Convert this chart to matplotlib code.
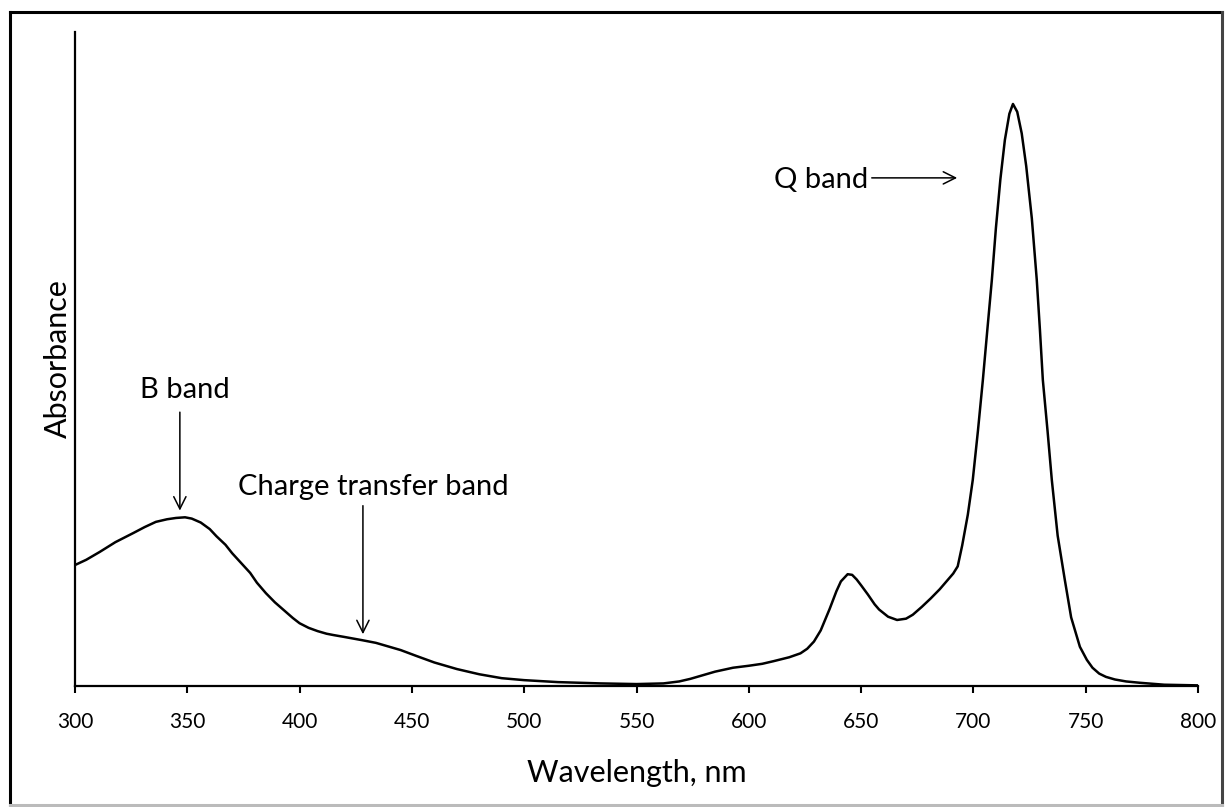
import matplotlib.pyplot as plt
from matplotlib.lines import Line2D

# UV-vis spectrum read as (wavelength nm, absorbance a.u.)
wavelength = [300, 305, 311, 318, 326, 331, 336, 341, 345, 349, 352, 356,
              360, 363, 367, 370, 374, 378, 381, 385, 389, 393, 397, 400,
              404, 408, 412, 415, 420, 428, 434, 440, 445, 452, 460, 470,
              480, 490, 500, 515, 534, 550, 562, 569, 574, 578, 585, 593,
              600, 606, 611, 618, 623, 626, 629, 632, 636, 639, 641, 644,
              646, 648, 650, 653, 656, 658, 662, 666, 670, 673, 677, 681,
              685, 688, 691, 693, 695, 697.5, 699.7, 702, 704.2, 706.2,
              708.2, 710, 712, 714, 716, 717.6, 719.5, 721.5, 723.5, 726,
              728.2, 729.6, 730.9, 733, 734.9, 737.5, 740.7, 743.5, 747.4,
              750.5, 753, 756, 759, 763, 768, 774, 785, 800]
absorbance = [0.185, 0.193, 0.205, 0.220, 0.234, 0.243, 0.251, 0.255, 0.257,
              0.258, 0.256, 0.250, 0.240, 0.229, 0.216, 0.203, 0.188, 0.173,
              0.158, 0.142, 0.128, 0.116, 0.104, 0.096, 0.089, 0.084, 0.080,
              0.078, 0.075, 0.070, 0.066, 0.060, 0.055, 0.046, 0.036, 0.026,
              0.018, 0.012, 0.009, 0.006, 0.004, 0.003, 0.004, 0.007, 0.011,
              0.015, 0.022, 0.028, 0.031, 0.034, 0.038, 0.044, 0.050, 0.057,
              0.068, 0.085, 0.118, 0.145, 0.160, 0.171, 0.170, 0.163, 0.154,
              0.140, 0.125, 0.117, 0.106, 0.101, 0.103, 0.109, 0.121, 0.134,
              0.148, 0.160, 0.172, 0.183, 0.215, 0.262, 0.315, 0.390, 0.468,
              0.545, 0.621, 0.700, 0.775, 0.835, 0.875, 0.890, 0.878, 0.845,
              0.795, 0.715, 0.621, 0.545, 0.468, 0.390, 0.315, 0.230, 0.162,
              0.105, 0.060, 0.040, 0.028, 0.019, 0.014, 0.010, 0.007, 0.005,
              0.002, 0.001]

x_ticks = [300, 350, 400, 450, 500, 550, 600, 650, 700, 750, 800]

plt.rcParams['font.family'] = ['Lato', 'DejaVu Sans']

fig = plt.figure(figsize=(12.27, 8.07), dpi=100)
ax = fig.add_axes([0.0611, 0.1499, 0.9153, 0.8104])

ax.plot(wavelength, absorbance, color='black', linewidth=1.8,
        solid_joinstyle='round')

ax.set_xlim(300, 800)
ax.set_ylim(0, 1)
ax.set_xticks(x_ticks)
ax.set_yticks([])
ax.tick_params(axis='x', direction='out', length=5, width=1.5,
               labelsize=15, pad=14)
for side in ('top', 'right'):
    ax.spines[side].set_visible(False)
for side in ('left', 'bottom'):
    ax.spines[side].set_linewidth(1.6)

ax.set_xlabel('Wavelength, nm', fontsize=22, labelpad=19)
ax.set_ylabel('Absorbance', fontsize=22, labelpad=2)

arrow = dict(arrowstyle='->', color='black', lw=1.1, mutation_scale=22)
text_opts = dict(fontsize=21, color='black')

ax.annotate('', xy=(346.7, 0.264), xytext=(346.7, 0.423), arrowprops=arrow)
ax.text(349, 0.452, 'B band', ha='center', va='center', **text_opts)

ax.annotate('', xy=(428.2, 0.075), xytext=(428.2, 0.280), arrowprops=arrow)
ax.text(433, 0.305, 'Charge transfer band', ha='center', va='center',
        **text_opts)

ax.annotate('', xy=(694, 0.777), xytext=(653.5, 0.777), arrowprops=arrow)
ax.text(653, 0.774, 'Q band', ha='right', va='center', **text_opts)

# frame around the whole figure: dark left/top/right, faint bottom
W, H = 1227, 807
left, right, top, bottom = 10 / W, 1222 / W, 1 - 12 / H, 1 - 805 / H
frame = [
    ((left, left), (bottom, top), 'black'),
    ((left, right), (top, top), 'black'),
    ((right, right), (bottom, top), '#444444'),
    ((left, right), (bottom, bottom), '#bbbbbb'),
]
for xs, ys, c in frame:
    fig.add_artist(Line2D(xs, ys, transform=fig.transFigure, color=c,
                          linewidth=2.2))

fig.savefig('out.png', dpi=100)
